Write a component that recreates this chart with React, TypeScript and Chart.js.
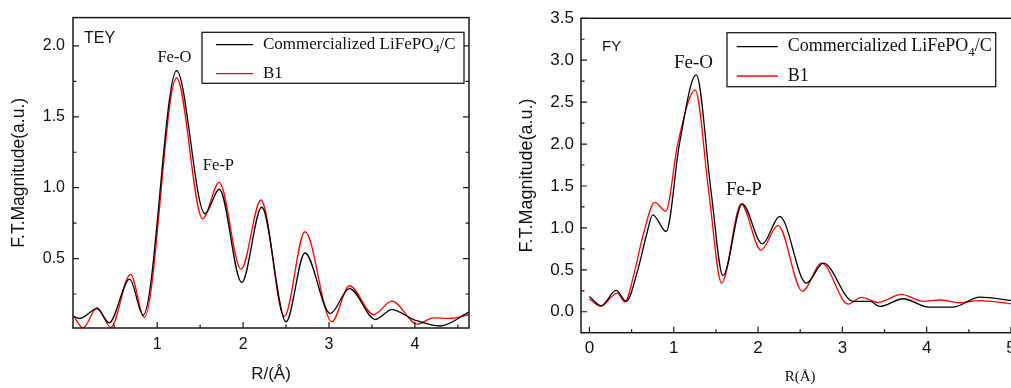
import React, { useEffect, useRef } from "react";
import { Chart, registerables } from "chart.js";

Chart.register(...registerables);

// ---------- DATA ----------
// TEY panel (left)
const teyCommR = [0.02, 0.10, 0.30, 0.44, 0.68, 0.837, 1.226, 1.556, 1.723, 1.984, 2.217, 2.50, 2.72, 3.015, 3.238, 3.54, 3.73, 4.0, 4.296, 4.636];
const teyCommY = [0.094, 0.077, 0.147, 0.047, 0.355, 0.10, 1.825, 0.816, 0.989, 0.331, 0.862, 0.054, 0.539, 0.112, 0.288, 0.07, 0.14, 0.066, 0.024, 0.125];
const teyB1R = [0.02, 0.138, 0.30, 0.46, 0.69, 0.85, 1.226, 1.529, 1.723, 1.976, 2.209, 2.48, 2.72, 3.033, 3.238, 3.52, 3.732, 4.03, 4.217, 4.41, 4.64];
const teyB1Y = [0.10, 0.012, 0.154, 0.015, 0.389, 0.085, 1.774, 0.781, 1.038, 0.424, 0.913, 0.092, 0.689, 0.054, 0.308, 0.105, 0.199, 0.038, 0.082, 0.078, 0.105];
const teyXTicks = [1, 2, 3, 4];
const teyYTicks = [0.5, 1.0, 1.5, 2.0];

// FY panel (right)
const fyCommR = [0, 0.139, 0.317, 0.436, 0.574, 0.673, 0.752, 0.91, 1.069, 1.267, 1.445, 1.584, 1.813, 2.05, 2.257, 2.573, 2.775, 3.127, 3.33, 3.444, 3.72, 4.02, 4.315, 4.63, 5.0];
const fyCommY = [0.183, 0.072, 0.254, 0.123, 0.50, 0.90, 1.156, 0.957, 2.01, 2.825, 1.415, 0.43, 1.287, 0.81, 1.136, 0.342, 0.58, 0.123, 0.123, 0.063, 0.155, 0.056, 0.056, 0.175, 0.135];
const fyB1R = [0, 0.135, 0.33, 0.42, 0.54, 0.633, 0.775, 0.905, 1.049, 1.255, 1.417, 1.568, 1.80, 2.035, 2.237, 2.526, 2.755, 3.068, 3.227, 3.424, 3.70, 3.96, 4.157, 4.394, 4.63, 5.0];
const fyB1Y = [0.151, 0.065, 0.222, 0.118, 0.50, 0.90, 1.305, 1.2, 2.01, 2.643, 1.415, 0.342, 1.285, 0.735, 1.03, 0.245, 0.58, 0.092, 0.171, 0.111, 0.207, 0.123, 0.14, 0.107, 0.133, 0.095];
const fyXTicks = [0, 1, 2, 3, 4, 5];
const fyYTicks = [0.0, 0.5, 1.0, 1.5, 2.0, 2.5, 3.0, 3.5];

const seriesLabels = ["Commercialized LiFePO_4/C", "B1"];
const seriesColors = ["#000000", "#ff0000"];

// ---------- STYLE ----------
const SANS = "'Liberation Sans', Arial, sans-serif";
const SERIF = "'Liberation Serif', 'Times New Roman', serif";
const AXIS = "#1a1a1a";

type Note = { text: string; x: number; y: number; size: number; family: string; align: CanvasTextAlign };

type PanelCfg = {
  name: string;
  left: number;
  width: number;
  height: number;
  padding: { left: number; right: number; top: number; bottom: number };
  yAxisWidth: number;
  xAxisHeight: number;
  xMin: number; xMax: number; yMin: number; yMax: number;
  xTicks: number[]; yTicks: number[];
  tickSize: number; xTickPad: number; yTickPad: number;
  xTitle: string; xTitleFont: { size: number; family: string }; xTitlePad: number;
  yTitle: string; yTitleSize: number; yTitlePad: number;
  series: { r: number[]; y: number[] }[];
  legend: { dx: number; dy: number; w: number; h: number; l0: number; l1: number; tx: number; rows: number[]; size: number };
  notes: Note[];
};

const panels: PanelCfg[] = [
  {
    name: "tey",
    left: 0, width: 480, height: 388,
    padding: { left: 0, right: 11, top: 12, bottom: 0 },
    yAxisWidth: 73, xAxisHeight: 60,
    xMin: 0.02, xMax: 4.63, yMin: 0.01, yMax: 2.2,
    xTicks: teyXTicks, yTicks: teyYTicks,
    tickSize: 16, xTickPad: 7, yTickPad: 8,
    xTitle: "R/(Å)", xTitleFont: { size: 17, family: SANS }, xTitlePad: 3.5,
    yTitle: "F.T.Magnitude(a.u.)", yTitleSize: 17.5, yTitlePad: 8.8,
    series: [{ r: teyCommR, y: teyCommY }, { r: teyB1R, y: teyB1Y }],
    legend: { dx: 129, dy: 14.7, w: 262, h: 51, l0: 14, l1: 51, tx: 61, rows: [12.3, 41.3], size: 17 },
    notes: [
      { text: "TEY", x: 0.149, y: 2.053, size: 16, family: SANS, align: "left" },
      { text: "Fe-O", x: 1.2, y: 1.915, size: 16.5, family: SERIF, align: "center" },
      { text: "Fe-P", x: 1.713, y: 1.153, size: 16.5, family: SERIF, align: "center" },
    ],
  },
  {
    name: "fy",
    left: 510, width: 530, height: 388,
    padding: { left: 0, right: 20.6, top: 18.3, bottom: 0 },
    yAxisWidth: 71, xAxisHeight: 55.3,
    xMin: -0.1, xMax: 5.1, yMin: -0.25, yMax: 3.5,
    xTicks: fyXTicks, yTicks: fyYTicks,
    tickSize: 17, xTickPad: 5.4, yTickPad: 7,
    xTitle: "R(Å)", xTitleFont: { size: 15, family: SERIF }, xTitlePad: 2,
    yTitle: "F.T.Magnitude(a.u.)", yTitleSize: 18, yTitlePad: 5.9,
    series: [{ r: fyCommR, y: fyCommY }, { r: fyB1R, y: fyB1Y }],
    legend: { dx: 146, dy: 14.4, w: 268.7, h: 54, l0: 9.7, l1: 50.7, tx: 60.7, rows: [14, 43.3], size: 18 },
    notes: [
      { text: "FY", x: 0.15, y: 3.162, size: 15, family: SANS, align: "left" },
      { text: "Fe-O", x: 1.235, y: 2.968, size: 19, family: SERIF, align: "center" },
      { text: "Fe-P", x: 1.833, y: 1.446, size: 19, family: SERIF, align: "center" },
    ],
  },
];

function drawRich(ctx: CanvasRenderingContext2D, text: string, x: number, y: number, size: number, family: string) {
  const parts = text.split(/_(\d)/);
  let cx = x;
  ctx.textAlign = "left";
  ctx.textBaseline = "middle";
  parts.forEach((p, i) => {
    if (!p) return;
    if (i % 2 === 1) {
      const s = size * 0.72;
      ctx.font = `${s}px ${family}`;
      ctx.fillText(p, cx, y + size * 0.32);
      cx += ctx.measureText(p).width;
    } else {
      ctx.font = `${size}px ${family}`;
      ctx.fillText(p, cx, y);
      cx += ctx.measureText(p).width;
    }
  });
}

function tickSet(ticks: number[], min: number, max: number) {
  const st = ticks[1] - ticks[0];
  const h = st / 2;
  const out: { v: number; major: boolean }[] = [];
  const start = Math.ceil((min - 1e-9) / h);
  for (let k = start; k * h <= max + 1e-9; k++) {
    const v = k * h;
    out.push({ v, major: Math.abs(v / st - Math.round(v / st)) < 1e-6 });
  }
  return out;
}

function framePlugin(cfg: PanelCfg) {
  return {
    id: "frame_" + cfg.name,
    afterDatasetsDraw(chart: any) {
      const ctx: CanvasRenderingContext2D = chart.ctx;
      const a = chart.chartArea;
      const xs = chart.scales.x;
      const ys = chart.scales.y;
      ctx.save();
      // frame
      ctx.strokeStyle = AXIS;
      ctx.lineWidth = 1.5;
      ctx.strokeRect(a.left, a.top, a.right - a.left, a.bottom - a.top);
      // inward ticks
      ctx.lineWidth = 1.2;
      ctx.beginPath();
      for (const t of tickSet(cfg.xTicks, xs.min, xs.max)) {
        const px = xs.getPixelForValue(t.v);
        const L = t.major ? 6 : 3.5;
        ctx.moveTo(px, a.bottom);
        ctx.lineTo(px, a.bottom - L);
      }
      for (const t of tickSet(cfg.yTicks, ys.min, ys.max)) {
        const py = ys.getPixelForValue(t.v);
        const L = t.major ? 6 : 3.5;
        ctx.moveTo(a.left, py);
        ctx.lineTo(a.left + L, py);
        ctx.moveTo(a.right, py);
        ctx.lineTo(a.right - L, py);
      }
      ctx.stroke();

      // legend
      const lg = cfg.legend;
      const bx = a.left + lg.dx;
      const by = a.top + lg.dy;
      ctx.fillStyle = "#ffffff";
      ctx.fillRect(bx, by, lg.w, lg.h);
      ctx.strokeStyle = AXIS;
      ctx.lineWidth = 1.3;
      ctx.strokeRect(bx, by, lg.w, lg.h);
      chart.data.datasets.forEach((ds: any, i: number) => {
        const ry = by + lg.rows[i];
        ctx.strokeStyle = ds.borderColor;
        ctx.lineWidth = 1.3;
        ctx.beginPath();
        ctx.moveTo(bx + lg.l0, ry);
        ctx.lineTo(bx + lg.l1, ry);
        ctx.stroke();
        ctx.fillStyle = "#111";
        drawRich(ctx, ds.label, bx + lg.tx, ry, lg.size, SERIF);
      });

      // annotations
      ctx.fillStyle = "#111";
      ctx.textBaseline = "middle";
      for (const n of cfg.notes) {
        ctx.font = `${n.size}px ${n.family}`;
        ctx.textAlign = n.align;
        ctx.fillText(n.text, xs.getPixelForValue(n.x), ys.getPixelForValue(n.y));
      }
      ctx.restore();
    },
  };
}

function buildConfig(cfg: PanelCfg): any {
  return {
    type: "line",
    data: {
      datasets: cfg.series.map((s, i) => ({
        label: seriesLabels[i],
        data: s.r.map((x, j) => ({ x, y: s.y[j] })),
        borderColor: seriesColors[i],
        backgroundColor: seriesColors[i],
        borderWidth: 1.3,
        pointRadius: 0,
        fill: false,
        cubicInterpolationMode: "monotone",
      })),
    },
    options: {
      animation: false,
      responsive: false,
      devicePixelRatio: 1,
      layout: { padding: cfg.padding },
      plugins: { legend: { display: false }, tooltip: { enabled: false } },
      scales: {
        x: {
          type: "linear",
          min: cfg.xMin,
          max: cfg.xMax,
          afterBuildTicks: (s: any) => {
            s.ticks = cfg.xTicks.map((v) => ({ value: v }));
          },
          afterFit: (s: any) => {
            s.height = cfg.xAxisHeight;
          },
          grid: { display: false, drawTicks: false },
          border: { display: false },
          ticks: {
            font: { family: SANS, size: cfg.tickSize },
            color: "#111",
            padding: cfg.xTickPad,
            maxRotation: 0,
            autoSkip: false,
            callback: (v: any) => String(v),
          },
          title: {
            display: true,
            text: cfg.xTitle,
            color: "#111",
            font: cfg.xTitleFont,
            padding: { top: 0, bottom: cfg.xTitlePad },
          },
        },
        y: {
          type: "linear",
          min: cfg.yMin,
          max: cfg.yMax,
          afterBuildTicks: (s: any) => {
            s.ticks = cfg.yTicks.map((v) => ({ value: v }));
          },
          afterFit: (s: any) => {
            s.width = cfg.yAxisWidth;
          },
          grid: { display: false, drawTicks: false },
          border: { display: false },
          ticks: {
            font: { family: SANS, size: cfg.tickSize },
            color: "#111",
            padding: cfg.yTickPad,
            autoSkip: false,
            callback: (v: any) => Number(v).toFixed(1),
          },
          title: {
            display: true,
            text: cfg.yTitle,
            color: "#111",
            font: { family: SANS, size: cfg.yTitleSize },
            padding: { top: cfg.yTitlePad, bottom: 0 },
          },
        },
      },
    },
    plugins: [framePlugin(cfg)],
  };
}

function Panel({ cfg }: { cfg: PanelCfg }) {
  const ref = useRef<HTMLCanvasElement>(null);
  useEffect(() => {
    const chart = new Chart(ref.current as HTMLCanvasElement, buildConfig(cfg));
    return () => chart.destroy();
  }, [cfg]);
  return (
    <canvas
      ref={ref}
      width={cfg.width}
      height={cfg.height}
      style={{ position: "absolute", left: cfg.left, top: 0, width: cfg.width, height: cfg.height }}
    />
  );
}

export default function App() {
  return (
    <div
      style={{
        position: "fixed",
        left: 0,
        top: 0,
        width: 1011,
        height: 388,
        overflow: "hidden",
        background: "#ffffff",
      }}
    >
      {panels.map((p) => (
        <Panel key={p.name} cfg={p} />
      ))}
    </div>
  );
}
